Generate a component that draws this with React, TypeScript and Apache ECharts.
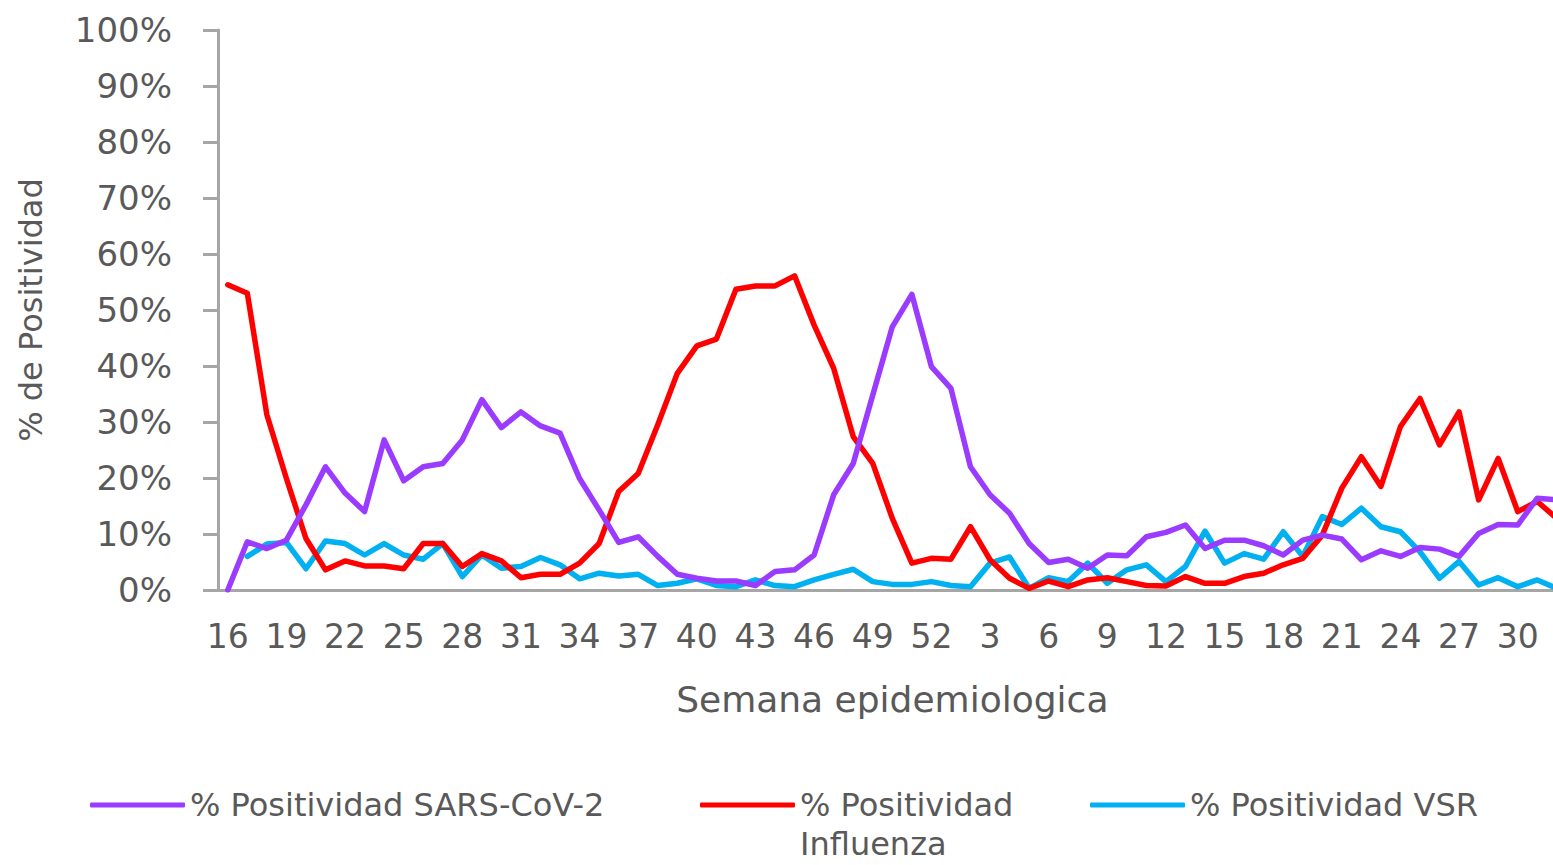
import React, { useEffect, useRef } from "react";
import * as echarts from "echarts";

const weeks = [
  "16", "17", "18", "19", "20", "21", "22", "23", "24", "25", "26", "27", "28", "29", "30", "31",
  "32", "33", "34", "35", "36", "37", "38", "39", "40", "41", "42", "43", "44", "45", "46", "47",
  "48", "49", "50", "51", "52",
  "1", "2", "3", "4", "5", "6", "7", "8", "9", "10", "11", "12", "13", "14", "15", "16", "17",
  "18", "19", "20", "21", "22", "23", "24", "25", "26", "27", "28", "29", "30", "31", "32",
];

const sarsCov2 = [
  0, 8.6, 7.4, 8.9, 15.2, 22.0, 17.3, 14.0, 26.8, 19.5, 22.0, 22.6, 26.8, 34.0, 29.0, 31.8,
  29.3, 28.0, 19.9, 14.3, 8.5, 9.5, 6.0, 2.8, 2.1, 1.6, 1.6, 0.8, 3.3, 3.6, 6.25, 17.0,
  22.6, 34.8, 47.0, 52.8, 39.9,
  36.0, 22.0, 17.0, 13.7, 8.3, 4.9, 5.5, 3.9, 6.25, 6.1, 9.5, 10.3, 11.6, 7.4, 8.9, 8.9, 7.9,
  6.25, 8.9, 9.8, 9.1, 5.4, 7.0, 6.0, 7.6, 7.3, 6.0, 10.1, 11.7, 11.6, 16.4, 16.1,
];

const influenza = [
  54.5, 53.0, 31.3, 19.9, 9.2, 3.6, 5.2, 4.3, 4.3, 3.8, 8.3, 8.3, 4.2, 6.5, 5.2, 2.2,
  2.8, 2.8, 4.8, 8.3, 17.6, 20.8, 29.5, 38.7, 43.6, 44.8, 53.7, 54.3, 54.3, 56.1, 47.3, 39.6,
  27.4, 22.6, 12.8, 4.8, 5.65,
  5.5, 11.3, 5.4, 2.1, 0.3, 1.6, 0.6, 1.8, 2.2, 1.5, 0.8, 0.7, 2.4, 1.2, 1.2, 2.4, 3.0,
  4.5, 5.65, 9.8, 18.2, 23.8, 18.5, 29.2, 34.2, 25.9, 31.8, 16.1, 23.5, 14.0, 15.8, 12.8,
];

const vsr = [
  null, 6.0, 8.2, 8.5, 3.8, 8.75, 8.3, 6.25, 8.3, 6.25, 5.5, 8.3, 2.4, 6.25, 3.9, 4.2,
  5.8, 4.5, 2.0, 3.0, 2.5, 2.8, 0.8, 1.2, 2.0, 0.8, 0.6, 1.8, 0.8, 0.6, 1.8, 2.8,
  3.7, 1.5, 1.0, 1.0, 1.5,
  0.8, 0.6, 4.8, 5.9, 0.3, 2.2, 1.5, 4.8, 1.2, 3.6, 4.5, 1.5, 4.2, 10.5, 4.8, 6.5, 5.5,
  10.4, 6.0, 13.1, 11.7, 14.6, 11.3, 10.4, 6.8, 2.1, 5.1, 0.9, 2.2, 0.6, 1.8, 0.3,
];

const seriesNames = [
  "% Positividad SARS-CoV-2",
  "% Positividad Influenza",
  "% Positividad VSR",
];
const seriesColors = ["#9B3BFF", "#FF0000", "#00B0F0"];

const FONT = "DejaVu Sans";
const TEXT = "#595959";
const AXIS = "#A6A6A6";

export default function App() {
  const ref = useRef<HTMLDivElement>(null);

  useEffect(() => {
    if (!ref.current) return;
    const chart = echarts.init(ref.current, null, { renderer: "svg" });
    const legendText = {
      color: TEXT,
      fontFamily: FONT,
      fontSize: 32,
      lineHeight: 39,
    };
    const legendBase = {
      orient: "horizontal",
      padding: 0,
      itemWidth: 95,
      itemHeight: 5,
      itemGap: 0,
      icon: "roundRect",
      textStyle: legendText,
    };
    chart.setOption({
      animation: false,
      backgroundColor: "#ffffff",
      grid: { left: 218, top: 30, right: 33.4, bottom: 275, containLabel: false },
      legend: [
        { ...legendBase, left: 90, top: 785.5, data: [{ name: seriesNames[0] }] },
        {
          ...legendBase,
          left: 700,
          top: 746.5,
          data: [{ name: seriesNames[1] }],
          formatter: () => "\n% Positividad\nInfluenza",
        },
        { ...legendBase, left: 1090, top: 785.5, data: [{ name: seriesNames[2] }] },
      ],
      xAxis: {
        type: "category",
        data: weeks,
        boundaryGap: true,
        name: "Semana epidemiologica",
        nameLocation: "middle",
        nameGap: 91,
        nameTextStyle: { color: TEXT, fontFamily: FONT, fontSize: 36 },
        axisLine: { show: true, lineStyle: { color: AXIS, width: 3 } },
        axisTick: { show: false },
        axisLabel: {
          interval: 2,
          color: TEXT,
          fontFamily: FONT,
          fontSize: 33,
          margin: 30,
        },
        splitLine: { show: false },
      },
      yAxis: {
        type: "value",
        min: 0,
        max: 100,
        interval: 10,
        name: "% de Positividad",
        nameLocation: "middle",
        nameGap: 171,
        nameTextStyle: { color: TEXT, fontFamily: FONT, fontSize: 32 },
        axisLine: { show: true, lineStyle: { color: AXIS, width: 3 } },
        axisTick: { show: true, length: 15, lineStyle: { color: AXIS, width: 3 } },
        axisLabel: {
          formatter: "{value}%",
          color: TEXT,
          fontFamily: FONT,
          fontSize: 34,
          margin: 46,
        },
        splitLine: { show: false },
      },
      series: [sarsCov2, influenza, vsr].map((d, i) => ({
        name: seriesNames[i],
        type: "line",
        data: d,
        symbol: "none",
        connectNulls: false,
        color: seriesColors[i],
        lineStyle: { color: seriesColors[i], width: 5.5, cap: "round", join: "round" },
        z: 3 - i,
      })),
    });
    return () => chart.dispose();
  }, []);

  return (
    <div
      style={{
        position: "absolute",
        left: 0,
        top: 0,
        width: 1553,
        height: 865,
        overflow: "hidden",
        background: "#ffffff",
      }}
    >
      <div ref={ref} style={{ width: 1600, height: 865 }} />
    </div>
  );
}
